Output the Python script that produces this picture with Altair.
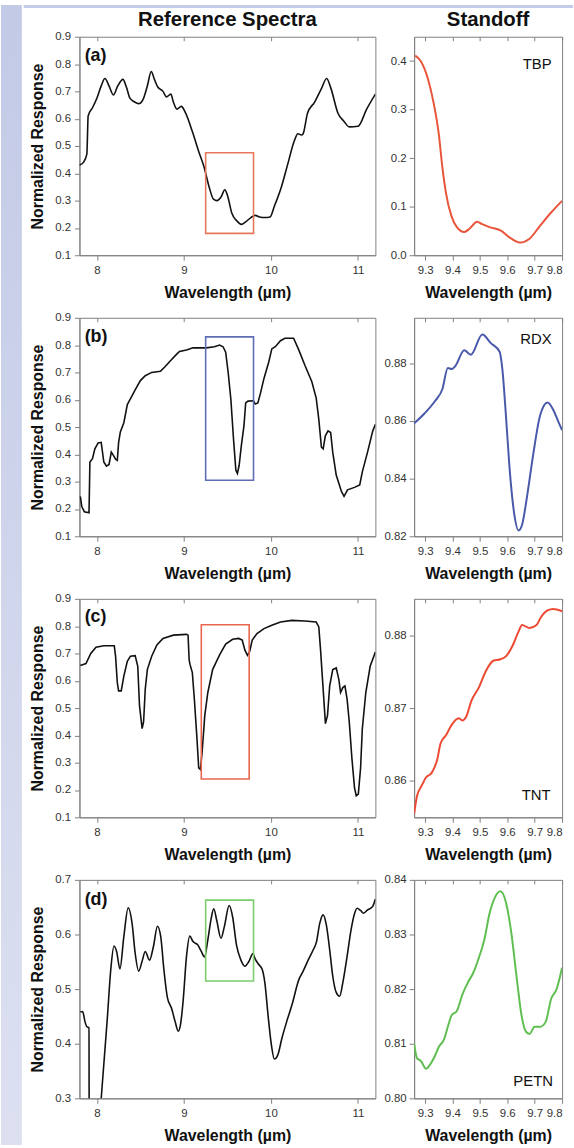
import altair as alt
import pandas as pd

FONT = "Liberation Sans"
FRAME = "#808080"
LABEL = "#333333"

# ---------------- data ----------------
# (a) reference spectrum
a_ref_wl = [7.80, 7.846, 7.885, 7.90, 7.95, 8.00, 8.05, 8.093, 8.14, 8.19, 8.24, 8.30, 8.34, 8.38,
            8.43, 8.48, 8.53, 8.58, 8.625, 8.66, 8.70, 8.76, 8.80, 8.85, 8.88, 8.92, 8.97, 9.02,
            9.10, 9.17, 9.23, 9.29, 9.34, 9.38, 9.43, 9.47, 9.50, 9.55, 9.61, 9.66, 9.71, 9.77,
            9.82, 9.87, 9.93, 9.99, 10.04, 10.12, 10.19, 10.27, 10.31, 10.35, 10.37, 10.42, 10.50,
            10.58, 10.64, 10.69, 10.77, 10.84, 10.90, 11.00, 11.10, 11.20]
a_ref_val = [0.43, 0.44, 0.47, 0.61, 0.64, 0.675, 0.72, 0.747, 0.72, 0.687, 0.72, 0.744, 0.715, 0.675,
             0.662, 0.655, 0.67, 0.72, 0.773, 0.745, 0.716, 0.70, 0.68, 0.69, 0.66, 0.635, 0.645, 0.62,
             0.55, 0.48, 0.425, 0.35, 0.305, 0.30, 0.315, 0.34, 0.32, 0.255, 0.225, 0.213, 0.222, 0.238,
             0.246, 0.24, 0.238, 0.24, 0.28, 0.35, 0.43, 0.52, 0.545, 0.54, 0.545, 0.62, 0.66,
             0.71, 0.747, 0.71, 0.62, 0.59, 0.57, 0.572, 0.635, 0.69]
# (a) standoff TBP
a_so_wl = [9.264, 9.284, 9.31, 9.33, 9.35, 9.363, 9.376, 9.396, 9.416, 9.443, 9.463, 9.49, 9.508,
           9.535, 9.575, 9.615, 9.648, 9.681, 9.72, 9.76, 9.80]
a_so_val = [0.411, 0.40, 0.364, 0.317, 0.25, 0.182, 0.129, 0.081, 0.058, 0.048, 0.055, 0.069, 0.064,
            0.058, 0.051, 0.034, 0.026, 0.034, 0.061, 0.088, 0.112]

# (b) reference spectrum
b_ref_wl = [7.81, 7.826, 7.856, 7.91, 7.92, 7.95, 7.977, 8.015, 8.05, 8.08, 8.11, 8.14, 8.166, 8.19,
            8.215, 8.235, 8.25, 8.27, 8.31, 8.35, 8.39, 8.44, 8.50, 8.556, 8.63, 8.73, 8.78, 8.84,
            8.92, 8.95, 9.03, 9.105, 9.256, 9.35, 9.41, 9.45, 9.48, 9.51, 9.54, 9.57, 9.597, 9.615,
            9.635, 9.66, 9.69, 9.71, 9.737, 9.80, 9.82, 9.85, 9.88, 9.92, 9.975, 10.01, 10.05, 10.11,
            10.16, 10.26, 10.315, 10.39, 10.47, 10.52, 10.55, 10.58, 10.60, 10.625, 10.656, 10.686,
            10.71, 10.75, 10.81, 10.84, 10.88, 10.96, 11.02, 11.05, 11.11, 11.17, 11.20]
b_ref_val = [0.246, 0.21, 0.19, 0.186, 0.372, 0.384, 0.42, 0.442, 0.444, 0.372, 0.357, 0.363, 0.408, 0.396,
             0.382, 0.378, 0.444, 0.482, 0.516, 0.582, 0.606, 0.636, 0.67, 0.688, 0.70, 0.704, 0.72, 0.741,
             0.768, 0.777, 0.782, 0.79, 0.79, 0.794, 0.80, 0.794, 0.774, 0.696, 0.60, 0.456, 0.342, 0.33,
             0.36, 0.432, 0.504, 0.588, 0.595, 0.596, 0.584, 0.588, 0.624, 0.678, 0.738, 0.786, 0.794, 0.816,
             0.825, 0.825, 0.786, 0.726, 0.666, 0.606, 0.528, 0.426, 0.42, 0.468, 0.486, 0.48,
             0.408, 0.324, 0.264, 0.246, 0.27, 0.279, 0.288, 0.336, 0.408, 0.486, 0.51]
# (b) standoff RDX
b_so_wl = [9.258, 9.297, 9.337, 9.363, 9.383, 9.397, 9.41, 9.443, 9.467, 9.509, 9.54, 9.572, 9.582,
           9.595, 9.608, 9.625, 9.641, 9.654, 9.674, 9.694, 9.72, 9.747, 9.767, 9.787, 9.80]
b_so_val = [0.859, 0.8625, 0.867, 0.871, 0.8784, 0.878, 0.879, 0.8845, 0.883, 0.890, 0.887, 0.884, 0.878,
            0.862, 0.844, 0.828, 0.822, 0.824, 0.835, 0.848, 0.862, 0.8664, 0.864, 0.8596, 0.8568]

# (c) reference spectrum
c_ref_wl = [7.81, 7.875, 7.93, 7.99, 8.08, 8.20, 8.215, 8.235, 8.25, 8.28, 8.31, 8.35, 8.386, 8.44,
            8.47, 8.49, 8.52, 8.537, 8.556, 8.58, 8.63, 8.69, 8.76, 8.88, 9.03, 9.048, 9.06, 9.07,
            9.097, 9.12, 9.15, 9.17, 9.19, 9.21, 9.24, 9.275, 9.33, 9.41, 9.48, 9.56, 9.63, 9.67,
            9.70, 9.73, 9.756, 9.785, 9.84, 9.92, 10.01, 10.11, 10.24, 10.39, 10.52, 10.55, 10.57,
            10.60, 10.626, 10.65, 10.675, 10.71, 10.75, 10.78, 10.80, 10.826, 10.85, 10.875, 10.90,
            10.93, 10.96, 10.98, 11.004, 11.03, 11.05, 11.09, 11.14, 11.20]
c_ref_val = [0.656, 0.663, 0.70, 0.723, 0.728, 0.728, 0.69, 0.593, 0.563, 0.563, 0.617, 0.671, 0.69, 0.692,
             0.653, 0.509, 0.425, 0.45, 0.569, 0.641, 0.69, 0.731, 0.755, 0.767, 0.77, 0.767, 0.677, 0.66,
             0.63, 0.533, 0.389, 0.281, 0.275, 0.341, 0.473, 0.557, 0.641, 0.695, 0.734, 0.752, 0.755, 0.749,
             0.713, 0.693, 0.707, 0.749, 0.773, 0.791, 0.803, 0.815, 0.821, 0.819, 0.815, 0.797, 0.713,
             0.569, 0.443, 0.473, 0.581, 0.641, 0.647, 0.605, 0.557, 0.575, 0.581, 0.533, 0.449,
             0.317, 0.209, 0.179, 0.185, 0.281, 0.425, 0.557, 0.653, 0.705]
# (c) standoff TNT
c_so_wl = [9.26, 9.271, 9.287, 9.304, 9.324, 9.344, 9.357, 9.377, 9.397, 9.423, 9.436, 9.45, 9.469,
           9.496, 9.522, 9.549, 9.575, 9.595, 9.621, 9.641, 9.654, 9.681, 9.707, 9.72, 9.747, 9.767, 9.80]
c_so_val = [0.8555, 0.858, 0.8593, 0.8605, 0.8611, 0.8629, 0.8652, 0.8663, 0.8677, 0.8686, 0.8683, 0.8688,
            0.871, 0.8728, 0.8751, 0.8765, 0.8767, 0.8771, 0.8787, 0.8805, 0.8814, 0.881, 0.8814, 0.8823,
            0.8834, 0.8836, 0.8833]

# (d) reference spectrum (drops below the axis between 7.91 and 8.05)
d_ref_wl = [7.81, 7.837, 7.864, 7.886, 7.91, 7.912, 8.00, 8.05, 8.12, 8.16, 8.197, 8.227, 8.265, 8.31,
            8.36, 8.405, 8.44, 8.48, 8.52, 8.556, 8.605, 8.65, 8.696, 8.734, 8.77, 8.81, 8.86, 8.90,
            8.935, 8.96, 8.99, 9.03, 9.067, 9.105, 9.16, 9.20, 9.237, 9.275, 9.313, 9.343, 9.377,
            9.426, 9.464, 9.52, 9.56, 9.604, 9.653, 9.70, 9.748, 9.793, 9.82, 9.86, 9.90, 9.93,
            9.967, 10.005, 10.04, 10.08, 10.126, 10.18, 10.25, 10.315, 10.37, 10.43, 10.486, 10.524,
            10.56, 10.60, 10.637, 10.675, 10.71, 10.75, 10.79, 10.826, 10.875, 10.92, 10.96, 10.99,
            11.03, 11.065, 11.11, 11.167, 11.20]
d_ref_val = [0.458, 0.459, 0.44, 0.431, 0.429, 0.20, 0.20, 0.30, 0.446, 0.536, 0.579, 0.569, 0.537, 0.596,
             0.649, 0.62, 0.566, 0.533, 0.551, 0.569, 0.553, 0.578, 0.615, 0.596, 0.536, 0.485, 0.464, 0.44,
             0.423, 0.434, 0.476, 0.56, 0.597, 0.587, 0.581, 0.569, 0.559, 0.59, 0.629, 0.647, 0.626,
             0.593, 0.614, 0.653, 0.632, 0.581, 0.554, 0.542, 0.551, 0.565, 0.555, 0.545, 0.536, 0.512,
             0.452, 0.398, 0.372, 0.38, 0.41, 0.44, 0.476, 0.515, 0.533, 0.554, 0.572, 0.587,
             0.62, 0.636, 0.617, 0.572, 0.524, 0.494, 0.487, 0.512, 0.56, 0.608, 0.638, 0.648,
             0.644, 0.639, 0.645, 0.651, 0.665]
# (d) standoff PETN
d_so_wl = [9.26, 9.271, 9.284, 9.304, 9.317, 9.337, 9.35, 9.37, 9.383, 9.397, 9.416, 9.436, 9.456,
           9.476, 9.496, 9.516, 9.535, 9.555, 9.575, 9.595, 9.615, 9.635, 9.652, 9.668, 9.681, 9.70,
           9.72, 9.74, 9.76, 9.78, 9.80]
d_so_val = [0.810, 0.8073, 0.8069, 0.8054, 0.8061, 0.8079, 0.8094, 0.8109, 0.8131, 0.8152, 0.816, 0.819,
            0.8212, 0.823, 0.8257, 0.829, 0.8338, 0.8368, 0.8379, 0.8359, 0.8302, 0.8218, 0.8152, 0.8122,
            0.8118, 0.8131, 0.8131, 0.814, 0.8182, 0.820, 0.8239]

panel_tags = ["(a)", "(b)", "(c)", "(d)"]
tag_wl = [7.86, 7.86, 7.86, 7.86]
tag_val = [0.828, 0.830, 0.832, 0.664]
species = ["TBP", "RDX", "TNT", "PETN"]
species_wl = [9.762, 9.762, 9.758, 9.767]
species_val = [0.393, 0.8886, 0.858, 0.8031]

# boxes marking the standoff window on the reference spectra: x0, x1, y0, y1
boxes = [[9.25, 9.80, 0.18, 0.475],
         [9.25, 9.80, 0.305, 0.83],
         [9.20, 9.75, 0.24, 0.805],
         [9.25, 9.80, 0.515, 0.663]]

ref_ydom = [[0.1, 0.9], [0.1, 0.9], [0.1, 0.9], [0.3, 0.7]]
ref_yticks = [[0.1, 0.2, 0.3, 0.4, 0.5, 0.6, 0.7, 0.8, 0.9]] * 3 + [[0.3, 0.4, 0.5, 0.6, 0.7]]
so_ydom = [[0.0, 0.45], [0.82, 0.8958], [0.855, 0.885], [0.80, 0.84]]
so_yticks = [[0.0, 0.1, 0.2, 0.3, 0.4], [0.82, 0.84, 0.86, 0.88], [0.86, 0.87, 0.88],
             [0.80, 0.81, 0.82, 0.83, 0.84]]
so_yfmt = [".1f", ".2f", ".2f", ".2f"]
ref_xticks = [8, 9, 10, 11]
so_xticks = [9.3, 9.4, 9.5, 9.6, 9.7, 9.8]

so_colors = ["#e8553a", "#4a5aaa", "#ec4a33", "#5fbf50"]
box_colors = ["#e8765c", "#5f6db2", "#e9664e", "#7ccd6c"]
ref_interp = ["monotone", "linear", "linear", "monotone"]

ref_data = [(a_ref_wl, a_ref_val), (b_ref_wl, b_ref_val), (c_ref_wl, c_ref_val), (d_ref_wl, d_ref_val)]
so_data = [(a_so_wl, a_so_val), (b_so_wl, b_so_val), (c_so_wl, c_so_val), (d_so_wl, d_so_val)]

LW, RW, H = 298, 149, 220


def bottom_axis(vals, fmt):
    return alt.Axis(values=vals, format=fmt, title="Wavelength (µm)", tickSize=5,
                    labelPadding=4, titlePadding=9)


def top_ticks(vals):
    return alt.Axis(orient="top", values=vals, labels=False, domain=False, tickSize=4,
                    offset=-4, title=None)


def ref_panel(i):
    xs = alt.Scale(domain=[7.8, 11.2], nice=False, zero=False)
    ys = alt.Scale(domain=ref_ydom[i], nice=False, zero=False)
    yaxis = alt.Axis(values=ref_yticks[i], format=".1f", title="Normalized Response", tickSize=5,
                     labelPadding=4, titlePadding=9, minExtent=25, maxExtent=25)
    df = pd.DataFrame({"wl": ref_data[i][0], "v": ref_data[i][1]})
    line = alt.Chart(df).mark_line(color="#111111", strokeWidth=1.6, clip=True,
                                   interpolate=ref_interp[i]).encode(
        x=alt.X("wl:Q", scale=xs, axis=bottom_axis(ref_xticks, "d")),
        y=alt.Y("v:Q", scale=ys, axis=yaxis))
    b = boxes[i]
    bdf = pd.DataFrame({"wl": [b[0]], "wl2": [b[1]], "v": [b[2]], "v2": [b[3]]})
    rect = alt.Chart(bdf).mark_rect(fillOpacity=0, stroke=box_colors[i], strokeWidth=1.6).encode(
        x=alt.X("wl:Q", scale=xs, axis=None), x2="wl2",
        y=alt.Y("v:Q", scale=ys, axis=yaxis), y2="v2")
    tdf = pd.DataFrame({"wl": [tag_wl[i]], "v": [tag_val[i]], "t": [panel_tags[i]]})
    tag = alt.Chart(tdf).mark_text(align="left", baseline="middle", font=FONT, fontSize=18,
                                   fontWeight="bold", color="#111111").encode(
        x=alt.X("wl:Q", scale=xs, axis=top_ticks(ref_xticks)),
        y=alt.Y("v:Q", scale=ys, axis=yaxis), text="t:N")
    ch = alt.layer(line, rect, tag).resolve_axis(x="independent").properties(width=LW, height=H)
    if i == 0:
        ch = ch.properties(title=alt.TitleParams("Reference Spectra", offset=0))
    return ch


def so_panel(i):
    xs = alt.Scale(domain=[9.26, 9.8], nice=False, zero=False)
    ys = alt.Scale(domain=so_ydom[i], nice=False, zero=False)
    yaxis = alt.Axis(values=so_yticks[i], format=so_yfmt[i], title=None, tickSize=5, labelPadding=3)
    df = pd.DataFrame({"wl": so_data[i][0], "v": so_data[i][1]})
    line = alt.Chart(df).mark_line(color=so_colors[i], strokeWidth=2.0, clip=True,
                                   interpolate="monotone").encode(
        x=alt.X("wl:Q", scale=xs, axis=bottom_axis(so_xticks, ".1f")),
        y=alt.Y("v:Q", scale=ys, axis=yaxis))
    tdf = pd.DataFrame({"wl": [species_wl[i]], "v": [species_val[i]], "t": [species[i]]})
    lab = alt.Chart(tdf).mark_text(align="right", baseline="middle", font=FONT, fontSize=15,
                                   color="#111111").encode(
        x=alt.X("wl:Q", scale=xs, axis=top_ticks(so_xticks)),
        y=alt.Y("v:Q", scale=ys, axis=yaxis), text="t:N")
    ch = alt.layer(line, lab).resolve_axis(x="independent").properties(width=RW, height=H)
    if i == 0:
        ch = ch.properties(title=alt.TitleParams("Standoff", offset=6))
    return ch


cells = []
for i in range(4):
    cells.append(ref_panel(i))
    cells.append(so_panel(i))

grid = alt.concat(*cells, columns=2, spacing={"row": 10, "column": 7})

# decorative light-blue slide margins
unit = alt.Scale(domain=[0, 1], nice=False, zero=False)
left_df = pd.DataFrame({"x0": [0.0], "x1": [1.0], "y0": [0.0], "y1": [1.0]})
left_strip = alt.Chart(left_df).mark_rect(
    color=alt.LinearGradient(gradient="linear",
                             stops=[alt.GradientStop(color="#c3cae6", offset=0),
                                    alt.GradientStop(color="#dce0f1", offset=1)],
                             x1=0, x2=0, y1=0, y2=1)).encode(
    x=alt.X("x0:Q", scale=unit, axis=None), x2="x1",
    y=alt.Y("y0:Q", scale=unit, axis=None), y2="y1"
).properties(width=21, height=1148, view=alt.ViewBackground(stroke="transparent"))

top_df = pd.DataFrame({"x0": [-0.113], "x1": [1.0], "y0": [0.0], "y1": [1.0]})
top_strip = alt.Chart(top_df).mark_rect(color="#c4cbe6", clip=False).encode(
    x=alt.X("x0:Q", scale=unit, axis=None), x2="x1",
    y=alt.Y("y0:Q", scale=unit, axis=None), y2="y1"
).properties(width=497, height=3, view=alt.ViewBackground(stroke="transparent"))

chart = alt.hconcat(
    left_strip,
    alt.vconcat(top_strip, grid, spacing=0),
    spacing=0,
).properties(padding=0, background="white").configure_view(
    stroke=FRAME, strokeWidth=1
).configure_axis(
    labelFont=FONT, titleFont=FONT, labelColor=LABEL, titleColor="#111111",
    labelFontSize=11.5, titleFontSize=16, titleFontWeight="bold",
    domainColor=FRAME, tickColor=FRAME, grid=False
).configure_title(
    font=FONT, fontSize=20.5, fontWeight="bold", color="#111111", anchor="middle", frame="group"
).configure_concat(spacing=0)

chart.save("out.html", embed_options={"renderer": "svg", "actions": False})
